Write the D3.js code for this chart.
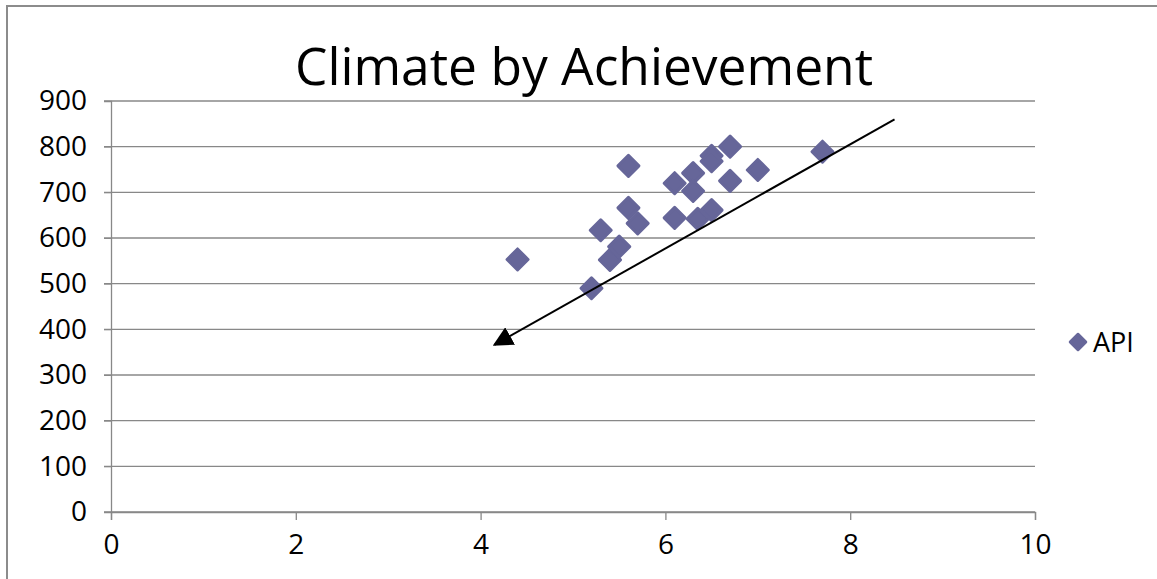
<!DOCTYPE html>
<html>
<head>
<meta charset="utf-8">
<script src="https://cdn.jsdelivr.net/npm/d3@7"></script>
<style>
  body { margin: 0; background: #fff; }
  text { font-family: "Open Sans", "DejaVu Sans", sans-serif; fill: #000; }
</style>
</head>
<body>
<svg id="chart"></svg>
<script>
// climate score (x) vs API score (y)
var climate = [4.4, 5.2, 5.3, 5.4, 5.5, 5.6, 5.6, 5.7, 6.1, 6.1, 6.3, 6.3, 6.35, 6.5, 6.5, 6.5, 6.7, 6.7, 7.0, 7.7];
var api     = [553, 490, 617, 552, 581, 758, 666, 632, 720, 644, 742, 703, 642, 661, 780, 768, 800, 725, 749, 789];

var xTicks = [0, 2, 4, 6, 8, 10];
var yTicks = [0, 100, 200, 300, 400, 500, 600, 700, 800, 900];

// arrow drawn over the chart (start, tip) in data units
var arrowX = [8.48, 4.15];
var arrowY = [860, 366];

var title = "Climate by Achievement";
var seriesName = "API";

var screen = { width: 1157, height: 579 };
var margin = { left: 111, right: 1035, top: 101, bottom: 512 };

var svg = d3.select("#chart")
            .attr("width", screen.width)
            .attr("height", screen.height);

// outer chart frame
svg.append("rect")
   .attr("x", 7).attr("y", 6)
   .attr("width", 1170).attr("height", 600)
   .attr("fill", "none")
   .attr("stroke", "#8c8c8c")
   .attr("stroke-width", 2);

var x = d3.scaleLinear().domain([0, 10]).range([margin.left, margin.right]);
var y = d3.scaleLinear().domain([0, 900]).range([margin.bottom, margin.top]);

// gridlines
svg.append("g")
   .selectAll("line")
   .data(yTicks)
   .enter()
   .append("line")
   .attr("x1", x(0) - 7)
   .attr("x2", x(10))
   .attr("y1", function(d){ return y(d); })
   .attr("y2", function(d){ return y(d); })
   .attr("stroke", "#888")
   .attr("stroke-width", 1.3);

// y axis
var yAxis = svg.append("g")
   .attr("transform", "translate(" + x(0) + ",0)")
   .call(d3.axisLeft(y).tickValues(yTicks).tickSize(7).tickPadding(17));
yAxis.select(".domain").attr("stroke", "#888").attr("stroke-width", 1.3);
yAxis.selectAll(".tick line").attr("stroke", "#888");
yAxis.selectAll("text").attr("font-size", 28).attr("font-family", "Open Sans");

// x axis
var xAxis = svg.append("g")
   .attr("transform", "translate(0," + y(0) + ")")
   .call(d3.axisBottom(x).tickValues(xTicks).tickSize(8).tickPadding(14));
xAxis.select(".domain").attr("stroke", "#888").attr("stroke-width", 1.3);
xAxis.selectAll(".tick line").attr("stroke", "#888").attr("stroke-width", 1.3);
xAxis.selectAll("text").attr("font-size", 28).attr("font-family", "Open Sans");

// diamond marker path
var diamond = function(r){
  return "M0," + (-r) + "L" + r + ",0L0," + r + "L" + (-r) + ",0Z";
};

svg.append("g")
   .selectAll("path")
   .data(climate)
   .enter()
   .append("path")
   .attr("d", diamond(10.5))
   .attr("transform", function(d, i){ return "translate(" + x(d) + "," + y(api[i]) + ")"; })
   .attr("fill", "#666699")
   .attr("stroke", "#666699")
   .attr("stroke-width", 3)
   .attr("stroke-linejoin", "round");

// arrow
svg.append("defs")
   .append("marker")
   .attr("id", "head")
   .attr("viewBox", "0 0 10 10")
   .attr("refX", 9)
   .attr("refY", 5)
   .attr("markerWidth", 10)
   .attr("markerHeight", 10)
   .attr("markerUnits", "strokeWidth")
   .attr("orient", "auto")
   .append("path")
   .attr("d", "M0,0L10,5L0,10Z")
   .attr("fill", "#000");

svg.append("line")
   .attr("x1", x(arrowX[0])).attr("y1", y(arrowY[0]))
   .attr("x2", x(arrowX[1])).attr("y2", y(arrowY[1]))
   .attr("stroke", "#000")
   .attr("stroke-width", 2)
   .attr("marker-end", "url(#head)");

// title
svg.append("text")
   .attr("x", 584)
   .attr("y", 85)
   .attr("text-anchor", "middle")
   .attr("font-size", 51.5)
   .attr("font-family", "DejaVu Sans")
   .text(title);

// legend
var legend = svg.append("g").attr("transform", "translate(1078,342)");
legend.append("path")
      .attr("d", diamond(8))
      .attr("fill", "#666699")
      .attr("stroke", "#666699")
      .attr("stroke-width", 2.5)
      .attr("stroke-linejoin", "round");
legend.append("text")
      .attr("x", 15)
      .attr("y", 10)
      .attr("font-size", 27)
      .text(seriesName);
</script>
</body>
</html>
